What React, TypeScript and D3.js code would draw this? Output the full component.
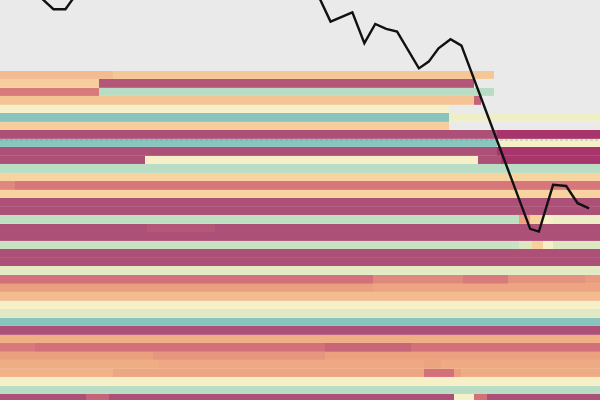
import React, { useEffect, useRef } from 'react'
import * as d3 from 'd3'

// colour levels for the stripe cells (0 = deep magenta ... 10 = teal)
const levelColors = [
  '#a7356c', '#ac5077', '#d4707a', '#eaa07f', '#f0ae85', '#f5c495',
  '#f7d3a0', '#f6f0c8', '#d7e6c2', '#b5dcc4', '#86c4bd',
]

// each row: list of [segment end, level]; segments start where the previous one ended
const rows: Array<Array<[number, number]>> = [
  [[10.36, 4.6], [45.28, 5.2]],
  [[9.07, 5.6], [43.49, 1.2]],
  [[9.07, 2.2], [45.28, 8.9]],
  [[43.49, 5], [44.09, 1.6]],
  [[41.15, 7]],
  [[41.15, 10], [55, 7.2]],
  [[41.15, 5.6]],
  [[45.55, 1], [55, 0]],
  [[45.55, 9.9], [55, 7]],
  [[45.55, 1], [55, 0]],
  [[13.29, 1], [43.8, 7], [45.9, 1], [55, 0]],
  [[55, 8.9]],
  [[55, 6]],
  [[1.37, 2.5], [55, 2.15]],
  [[55, 6]],
  [[55, 1]],
  [[55, 1]],
  [[47.6, 8.7], [48.6, 3.2], [49.8, 5.8], [50.7, 7], [55, 7.3]],
  [[13.5, 1], [19.7, 1.2], [55, 1]],
  [[55, 1]],
  [[47.6, 8.4], [48.8, 7.8], [49.8, 5.8], [50.7, 7], [55, 7.8]],
  [[55, 1]],
  [[55, 1]],
  [[55, 7.6]],
  [[34.19, 2], [42.4, 2.5], [46.56, 2.2], [53.6, 2.7], [55, 2.9]],
  [[34.2, 3], [55, 3.3]],
  [[55, 4.6]],
  [[55, 7]],
  [[55, 7.7]],
  [[55, 10]],
  [[55, 1]],
  [[55, 4]],
  [[3.2, 2.2], [29.8, 2], [37.7, 1.7], [55, 2]],
  [[14.0, 3], [29.8, 2.8], [55, 3.1]],
  [[14.6, 3.9], [38.9, 3.6], [40.4, 3.2], [55, 3.7]],
  [[10.4, 4.2], [38.9, 3.4], [41.6, 2], [42.3, 3], [55, 3.8]],
  [[55, 7]],
  [[55, 8.9]],
  [[7.9, 1], [10, 1.6], [41.6, 1], [43.45, 7], [44.6, 2], [55, 1]],
]

// black series line
const lineX = [2.9, 3.9, 4.9, 6.0, 7.0, 28.4, 30.3, 32.3, 33.4, 34.4, 35.4, 36.4, 38.4, 39.3, 40.2, 41.3, 42.3, 48.6, 49.4, 50.7, 51.9, 52.95, 54.0]
const lineY = [104, 100.2, 97.7, 97.7, 101.5, 105.6, 94.6, 96.9, 89.2, 94, 92.8, 92.1, 82.9, 84.6, 87.9, 90.2, 88.6, 42.8, 42.1, 53.8, 53.5, 49.2, 47.9]

const referenceValue = 65

export default function App() {
  const svgRef = useRef<SVGSVGElement>(null)

  useEffect(() => {
    if (!svgRef.current) return
    const svg = d3.select(svgRef.current)
    svg.selectAll('*').remove()

    const width = 600
    const height = 400
    const rowH = 8.52
    const top = 70.5

    const x = d3.scaleLinear().domain([0, 55]).range([0, width])
    const y = d3.scaleLinear().domain([0, 100]).range([height, 0])
    const rowScale = d3.scaleBand<number>()
      .domain(rows.map((_, i) => i))
      .range([top, top + rows.length * rowH])
    const color = d3.scaleLinear<string>()
      .domain(levelColors.map((_, i) => i))
      .range(levelColors)
      .interpolate(d3.interpolateRgb)

    svg.append('rect')
      .attr('width', width)
      .attr('height', height)
      .attr('fill', '#eaeaea')

    const g = svg.append('g')
    rows.forEach((segs, i) => {
      let start = 0
      segs.forEach(([end, level]) => {
        g.append('rect')
          .attr('x', x(start))
          .attr('y', rowScale(i)!)
          .attr('width', x(end) - x(start))
          .attr('height', rowScale.bandwidth())
          .attr('fill', color(level))
          .attr('shape-rendering', 'crispEdges')
        start = end
      })
      // faint separator under each row
      const last = segs[segs.length - 1][0]
      g.append('line')
        .attr('x1', 0)
        .attr('x2', x(last))
        .attr('y1', rowScale(i)! + rowScale.bandwidth())
        .attr('y2', rowScale(i)! + rowScale.bandwidth())
        .attr('stroke', '#fff')
        .attr('stroke-opacity', 0.25)
        .attr('stroke-width', 0.6)
    })

    // dashed reference line
    svg.append('line')
      .attr('x1', 0)
      .attr('x2', width)
      .attr('y1', y(referenceValue))
      .attr('y2', y(referenceValue))
      .attr('stroke', '#4f9e9a')
      .attr('stroke-opacity', 0.55)
      .attr('stroke-width', 1)
      .attr('stroke-dasharray', '3 2')

    const line = d3.line<number>()
      .x((_, i) => x(lineX[i]))
      .y(d => y(d))

    svg.append('path')
      .datum(lineY)
      .attr('d', line)
      .attr('fill', 'none')
      .attr('stroke', '#111')
      .attr('stroke-width', 2.4)
  }, [])

  return (
    <svg
      ref={svgRef}
      width={600}
      height={400}
      style={{ position: 'absolute', left: 0, top: 0, display: 'block' }}
    />
  )
}
